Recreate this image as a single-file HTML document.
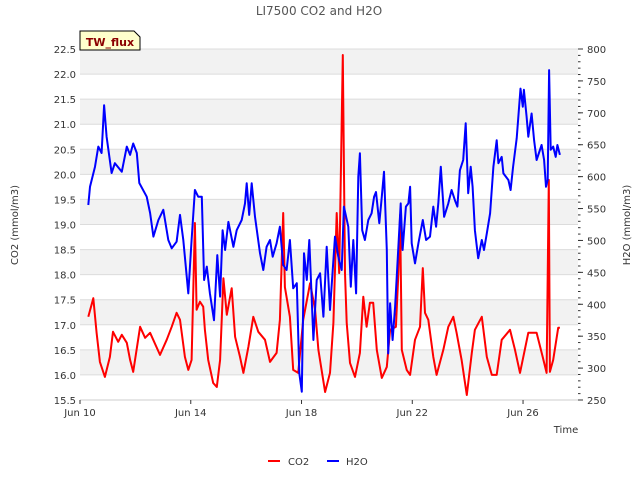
<!DOCTYPE html>
<html><head><meta charset="utf-8"><style>
body{margin:0;background:#fff;}
svg{display:block;font-family:"DejaVu Sans","Liberation Sans",sans-serif;}
</style></head><body>
<svg id="c" width="640" height="480" viewBox="0 0 640 480">
<g id="bands"></g><g id="grid"></g><g id="axes"></g><g id="series"></g>
<text x="319" y="15" text-anchor="middle" font-size="12" fill="#555">LI7500 CO2 and H2O</text>
<text transform="translate(18,225) rotate(-90)" text-anchor="middle" font-size="10" fill="#333">CO2 (mmol/m3)</text>
<text transform="translate(630,225) rotate(-90)" text-anchor="middle" font-size="10" fill="#333">H2O (mmol/m3)</text>
<text x="566" y="433" text-anchor="middle" font-size="10" fill="#333">Time</text>
<g><path d="M80,50 L80,31 L134,31 L140,37 L140,50 Z" fill="#ffffcc" stroke="#000" stroke-width="1"/>
<text x="110" y="46" text-anchor="middle" font-size="11" font-weight="bold" fill="#8b0000">TW_flux</text></g>
<g>
<line x1="268" y1="461" x2="280" y2="461" stroke="#f00" stroke-width="2"/>
<text x="288" y="465" font-size="10" fill="#333">CO2</text>
<line x1="327" y1="461" x2="339" y2="461" stroke="#00f" stroke-width="2"/>
<text x="346" y="465" font-size="10" fill="#333">H2O</text></g>
</svg>
<script>
const xTickLabels=["Jun 10","Jun 14","Jun 18","Jun 22","Jun 26"];
const xTickDays=[0,4,8,12,16];
const leftTicks=[15.5,16.0,16.5,17.0,17.5,18.0,18.5,19.0,19.5,20.0,20.5,21.0,21.5,22.0,22.5];
const rightTicks=[250,300,350,400,450,500,550,600,650,700,750,800];
const co2Days=[0.30,0.48,0.60,0.72,0.90,1.08,1.19,1.38,1.51,1.69,1.81,1.92,2.17,2.35,2.53,2.89,3.13,3.31,3.49,3.61,3.79,3.91,4.03,4.15,4.21,4.33,4.45,4.51,4.63,4.81,4.94,5.06,5.18,5.30,5.48,5.60,5.78,5.90,6.08,6.26,6.44,6.68,6.86,7.10,7.22,7.34,7.40,7.58,7.70,7.88,8.06,8.31,8.49,8.61,8.85,9.03,9.15,9.27,9.36,9.41,9.49,9.57,9.63,9.75,9.93,10.11,10.23,10.35,10.47,10.59,10.72,10.90,11.08,11.20,11.41,11.50,11.56,11.62,11.80,11.92,12.10,12.28,12.38,12.46,12.58,12.76,12.88,13.12,13.30,13.48,13.60,13.78,13.97,14.15,14.26,14.51,14.69,14.87,15.05,15.23,15.53,15.71,15.89,16.19,16.49,16.71,16.85,16.93,16.97,17.09,17.27,17.33];
const co2Values=[17.16,17.53,16.84,16.26,15.96,16.36,16.86,16.66,16.8,16.64,16.3,16.06,16.96,16.74,16.84,16.4,16.7,16.96,17.24,17.1,16.36,16.1,16.3,19.03,17.3,17.46,17.36,16.9,16.3,15.84,15.76,16.3,17.93,17.2,17.73,16.76,16.36,16.04,16.56,17.16,16.86,16.7,16.26,16.44,17.1,19.23,17.75,17.16,16.1,16.04,17.1,17.83,17.3,16.5,15.66,16.04,17.04,19.23,18.03,19.69,22.38,18.03,17.04,16.24,15.96,16.44,17.56,16.96,17.44,17.44,16.5,15.94,16.16,16.9,16.96,18.03,19.19,16.5,16.1,16.0,16.7,16.96,18.13,17.24,17.1,16.36,16.0,16.5,16.96,17.16,16.84,16.3,15.6,16.44,16.9,17.16,16.36,16.0,16.0,16.7,16.9,16.5,16.04,16.84,16.84,16.36,16.04,19.89,16.06,16.3,16.94,16.94];
const h2oDays=[0.30,0.36,0.54,0.66,0.78,0.87,0.96,1.14,1.26,1.51,1.69,1.81,1.92,2.05,2.14,2.41,2.53,2.65,2.83,3.01,3.19,3.31,3.49,3.61,3.73,3.91,4.03,4.15,4.27,4.40,4.48,4.58,4.69,4.84,4.96,5.06,5.15,5.24,5.36,5.54,5.66,5.84,5.96,6.02,6.11,6.20,6.32,6.50,6.62,6.74,6.86,6.96,7.10,7.22,7.34,7.46,7.58,7.70,7.83,7.92,8.01,8.09,8.19,8.28,8.43,8.55,8.67,8.79,8.91,9.03,9.12,9.21,9.33,9.45,9.53,9.69,9.78,9.87,9.97,10.05,10.11,10.19,10.29,10.41,10.53,10.62,10.69,10.81,10.90,10.98,11.08,11.13,11.20,11.29,11.38,11.46,11.58,11.65,11.77,11.86,11.92,11.98,12.10,12.22,12.38,12.50,12.64,12.76,12.86,12.94,13.03,13.15,13.30,13.42,13.54,13.63,13.72,13.84,13.93,14.02,14.11,14.18,14.26,14.38,14.51,14.59,14.69,14.81,14.93,15.05,15.11,15.23,15.29,15.47,15.55,15.64,15.77,15.91,15.99,16.03,16.13,16.19,16.31,16.40,16.49,16.67,16.76,16.83,16.89,16.94,17.00,17.09,17.18,17.24,17.33];
const h2oValues=[555.6,584,615.6,647,637,712,662.6,605.7,621,607.8,647,634,652,637,590,568.6,543,506,532,548,500.7,487.7,498,540,500.7,417,500.7,579,568.6,568.6,438,459,417,375,477,412,516,485,529,490,516,532,558,589.6,540,589.6,537,480,453.7,490,500.7,474.6,495.6,521.6,461.5,453.7,500.7,425,433,291.8,263,480,438,500.7,344,438,448.5,380.5,490,391,448.5,506,474.6,453.7,553,521.6,427.6,500.7,417,600,636.6,516,500.7,532,542.5,568.6,576,527,568.6,607.8,485,323,401.5,344,396,459,558,485,553,558,584,495.6,464,495.6,532,500.7,506,553,521.6,558,615.6,537,558,579,563,553,610,626,683.6,574,615.6,584,516,472,500.7,485,511,542.5,615.6,657,621,631,605,594.7,579,615.6,660,738,709.6,736,694,662.6,699,657,626,649.6,626,584,594.7,767,642,647,631,649.6,634];

const NS="http://www.w3.org/2000/svg";
const X0=80,X1=578,Y0=49,Y1=400,PXDAY=27.69;
const xs=d=>X0+d*PXDAY;
const yl=v=>Y1-(v-15.5)/(22.5-15.5)*(Y1-Y0);
const yr=v=>Y1-(v-250)/(800-250)*(Y1-Y0);
function mk(tag,attrs,parent){const e=document.createElementNS(NS,tag);for(const k in attrs)e.setAttribute(k,attrs[k]);parent.appendChild(e);return e;}
const bands=document.getElementById('bands'),grid=document.getElementById('grid'),axes=document.getElementById('axes'),ser=document.getElementById('series');
mk('rect',{x:X0,y:Y0,width:X1-X0,height:Y1-Y0,fill:'#fff'},bands);
for(let i=0;i<leftTicks.length-1;i++){
  if(i%2===1){const r=mk('rect',{x:X0,y:yl(leftTicks[i+1]),width:X1-X0,height:yl(leftTicks[i])-yl(leftTicks[i+1]),fill:'#f2f2f2'},bands);
  
  }
}
leftTicks.forEach(v=>{
  const l=mk('line',{x1:X0,x2:X1,y1:yl(v),y2:yl(v),stroke:'#dcdcdc','stroke-width':1},grid);
  
  
  const t=mk('text',{x:X0-4,y:yl(v)+4,'text-anchor':'end','font-size':10,fill:'#333'},axes);
  t.textContent=v.toFixed(1);
  
  
});
rightTicks.forEach(v=>{
  mk('line',{x1:X1,x2:X1+5,y1:yr(v),y2:yr(v),stroke:'#333'},axes);
  const t=mk('text',{x:X1+9,y:yr(v)+4,'font-size':10,fill:'#333'},axes);
  t.textContent=v;
  
  
});
for(let v=250;v<=800;v+=10){mk('line',{x1:X1,x2:X1+2.5,y1:yr(v),y2:yr(v),stroke:'#333'},axes);}
mk('line',{x1:X0,x2:X1,y1:Y1,y2:Y1,stroke:'#ccc'},axes);
xTickDays.forEach((d,i)=>{
  mk('line',{x1:xs(d),x2:xs(d),y1:Y1,y2:Y1+4,stroke:'#333'},axes);
  const t=mk('text',{x:xs(d),y:Y1+16,'text-anchor':'middle','font-size':10,fill:'#333'},axes);
  t.textContent=xTickLabels[i];
  
  
});
function line(days,vals,yf,color,name){
  const p=mk('polyline',{points:days.map((d,i)=>xs(d).toFixed(1)+','+yf(vals[i]).toFixed(1)).join(' '),fill:'none',stroke:color,'stroke-width':2,'stroke-linejoin':'round'},ser);
  
  
}
line(co2Days,co2Values,yl,'#ff0000','co2-line');
line(h2oDays,h2oValues,yr,'#0000ff','h2o-line');
</script>
</body></html>
